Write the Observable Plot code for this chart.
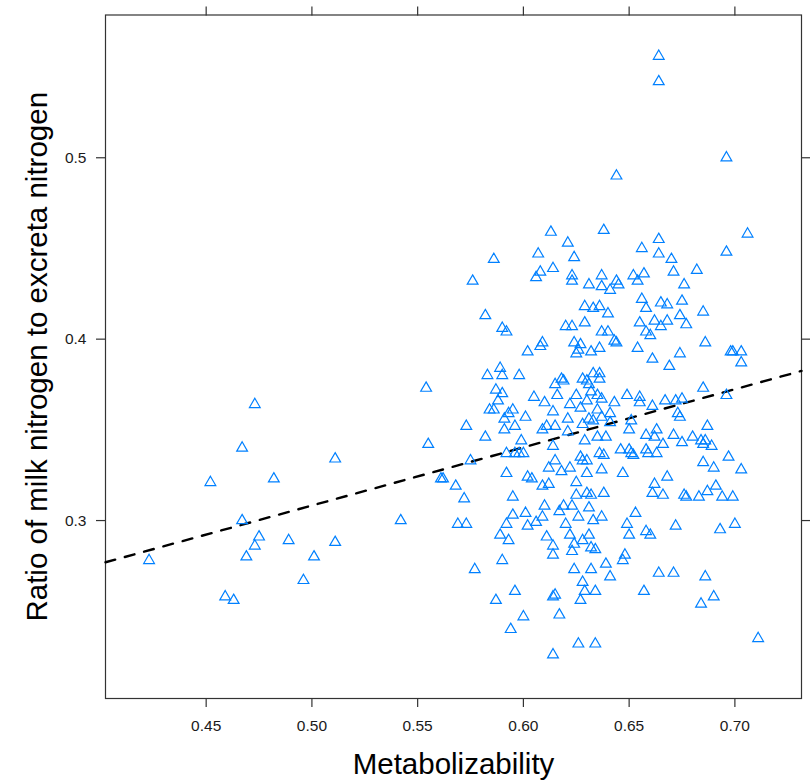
<!DOCTYPE html>
<html>
<head>
<meta charset="utf-8">
<script src="https://cdn.jsdelivr.net/npm/d3@7"></script>
<script src="https://cdn.jsdelivr.net/npm/@observablehq/plot@0.6"></script>
<style>
  html, body { margin: 0; padding: 0; background: white; }
</style>
</head>
<body>
<div id="chart"></div>
<script>
const xTitle = "Metabolizability";
const yTitle = "Ratio of milk nitrogen to excreta nitrogen";
const xTicks = [0.45, 0.50, 0.55, 0.60, 0.65, 0.70];
const yTicks = [0.3, 0.4, 0.5];
const fitX = [0.4024, 0.7315];
const fitY = [0.2770, 0.3825];

const metab = [
0.423,0.452,0.459,0.463,0.467,0.467,0.469,0.473,0.473,0.475,0.482,0.489,0.496,0.501,0.511,0.511,0.542,0.554,0.555,0.561,
0.562,0.568,0.572,0.569,0.573,0.573,0.575,0.576,0.577,0.582,0.582,0.583,0.586,0.584,0.586,0.587,0.587,0.588,0.589,0.589,
0.590,0.590,0.592,0.590,0.591,0.591,0.590,0.592,0.592,0.593,0.593,0.592,0.594,0.595,0.595,0.595,0.596,0.596,0.596,0.598,
0.598,0.599,0.600,0.600,0.601,0.601,0.602,0.602,0.602,0.604,0.605,0.606,0.606,0.607,0.608,0.608,0.609,0.609,0.609,0.610,
0.610,0.611,0.612,0.612,0.611,0.609,0.613,0.614,0.614,0.614,0.614,0.614,0.614,0.614,0.615,0.615,0.615,0.615,0.616,0.617,
0.617,0.618,0.619,0.618,0.619,0.620,0.620,0.621,0.621,0.621,0.622,0.622,0.622,0.623,0.623,0.623,0.623,0.624,0.623,0.624,
0.624,0.624,0.625,0.625,0.625,0.625,0.626,0.626,0.626,0.627,0.627,0.627,0.627,0.628,0.628,0.628,0.628,0.628,0.629,0.629,
0.629,0.629,0.630,0.630,0.630,0.630,0.630,0.631,0.631,0.631,0.631,0.631,0.632,0.632,0.632,0.632,0.632,0.633,0.633,0.633,
0.633,0.634,0.634,0.634,0.635,0.635,0.635,0.636,0.636,0.636,0.636,0.636,0.637,0.637,0.637,0.637,0.637,0.637,0.637,0.638,
0.638,0.638,0.639,0.639,0.640,0.640,0.641,0.641,0.641,0.641,0.643,0.644,0.644,0.644,0.643,0.645,0.646,0.647,0.647,0.648,
0.649,0.649,0.650,0.650,0.650,0.651,0.651,0.652,0.652,0.653,0.654,0.654,0.655,0.655,0.655,0.656,0.656,0.657,0.657,0.658,
0.658,0.658,0.658,0.658,0.659,0.660,0.660,0.661,0.661,0.662,0.661,0.662,0.662,0.663,0.663,0.664,0.664,0.664,0.664,0.664,
0.665,0.665,0.666,0.666,0.667,0.668,0.668,0.668,0.669,0.670,0.671,0.671,0.671,0.672,0.672,0.673,0.674,0.674,0.674,0.675,
0.675,0.675,0.676,0.677,0.677,0.676,0.680,0.682,0.683,0.684,0.684,0.685,0.685,0.685,0.685,0.686,0.686,0.686,0.687,0.687,
0.689,0.690,0.690,0.691,0.693,0.694,0.696,0.696,0.696,0.697,0.698,0.699,0.699,0.700,0.703,0.703,0.703,0.706,0.711
];
const ratio = [
0.278,0.321,0.258,0.256,0.340,0.300,0.280,0.364,0.286,0.291,0.323,0.289,0.267,0.280,0.334,0.288,0.300,0.373,0.342,0.323,
0.323,0.319,0.312,0.298,0.298,0.352,0.333,0.432,0.273,0.413,0.346,0.380,0.444,0.361,0.361,0.256,0.372,0.366,0.384,0.292,
0.380,0.406,0.404,0.370,0.356,0.350,0.278,0.326,0.298,0.289,0.359,0.337,0.240,0.361,0.313,0.303,0.261,0.352,0.337,0.380,
0.337,0.344,0.337,0.247,0.357,0.304,0.393,0.324,0.297,0.323,0.368,0.299,0.434,0.447,0.437,0.396,0.398,0.350,0.319,0.308,
0.365,0.352,0.329,0.320,0.291,0.302,0.459,0.226,0.439,0.360,0.281,0.258,0.341,0.286,0.375,0.259,0.333,0.352,0.369,0.305,
0.248,0.378,0.377,0.327,0.308,0.298,0.407,0.453,0.356,0.349,0.329,0.364,0.292,0.435,0.308,0.283,0.432,0.445,0.407,0.398,
0.287,0.273,0.321,0.392,0.369,0.314,0.232,0.394,0.302,0.335,0.256,0.397,0.362,0.353,0.266,0.378,0.333,0.289,0.409,0.344,
0.418,0.261,0.333,0.315,0.326,0.377,0.366,0.430,0.307,0.292,0.375,0.356,0.314,0.273,0.285,0.393,0.371,0.381,0.355,0.300,
0.417,0.232,0.284,0.261,0.346,0.369,0.361,0.337,0.418,0.381,0.378,0.395,0.429,0.435,0.357,0.367,0.404,0.302,0.328,0.315,
0.460,0.336,0.346,0.276,0.404,0.414,0.427,0.354,0.269,0.359,0.399,0.432,0.398,0.490,0.365,0.430,0.339,0.326,0.278,0.281,
0.369,0.298,0.292,0.350,0.339,0.355,0.337,0.435,0.336,0.304,0.432,0.395,0.409,0.365,0.368,0.450,0.422,0.436,0.261,0.294,
0.339,0.417,0.347,0.404,0.337,0.292,0.402,0.389,0.363,0.346,0.315,0.410,0.320,0.350,0.337,0.455,0.447,0.556,0.542,0.271,
0.420,0.407,0.314,0.342,0.366,0.324,0.419,0.410,0.385,0.444,0.271,0.347,0.437,0.297,0.366,0.359,0.357,0.392,0.413,0.421,
0.343,0.367,0.430,0.313,0.408,0.314,0.346,0.438,0.313,0.254,0.344,0.342,0.415,0.332,0.373,0.398,0.344,0.269,0.316,0.352,
0.341,0.329,0.258,0.319,0.295,0.313,0.500,0.448,0.369,0.335,0.393,0.393,0.313,0.298,0.393,0.387,0.328,0.458,0.235
];

const points = metab.map((m, i) => ({metab: m, ratio: ratio[i]}));
const fit = fitX.map((x, i) => ({x, y: fitY[i]}));

const axisStyle = {tickSize: 9, label: null, stroke: "#333", strokeWidth: 1.2};

const chart = Plot.plot({
  width: 810,
  height: 780,
  marginLeft: 105,
  marginRight: 9,
  marginTop: 14.5,
  marginBottom: 82,
  style: {fontFamily: "'Liberation Sans', Arial, sans-serif", background: "white", color: "#1a1a1a"},
  x: {domain: [0.4024, 0.7315]},
  y: {domain: [0.2019, 0.5787]},
  marks: [
    Plot.frame({stroke: "#333", strokeWidth: 1.2}),
    Plot.axisX({...axisStyle, ticks: xTicks, tickFormat: d3.format(".2f"), tickPadding: 12, fontSize: 15.5}),
    Plot.axisX({...axisStyle, anchor: "top", ticks: xTicks, tickFormat: () => ""}),
    Plot.axisY({...axisStyle, ticks: yTicks, tickFormat: d3.format(".1f"), tickPadding: 10, fontSize: 15.5}),
    Plot.axisY({...axisStyle, anchor: "right", ticks: yTicks, tickFormat: () => ""}),
    Plot.line(fit, {x: "x", y: "y", stroke: "black", strokeWidth: 2.4, strokeDasharray: "10,10"}),
    Plot.dot(points, {x: "metab", y: "ratio", symbol: "triangle", r: 4, stroke: "#0080ff", strokeWidth: 1.2, fill: "none"}),
    Plot.text([xTitle], {text: d => d, frameAnchor: "bottom", textAnchor: "middle", lineAnchor: "bottom", dy: 75, fontSize: 29.5, fill: "black"}),
    Plot.text([yTitle], {text: d => d, frameAnchor: "left", textAnchor: "middle", lineAnchor: "bottom", rotate: -90, dx: -59, fontSize: 29.5, fill: "black"})
  ]
});
document.getElementById("chart").appendChild(chart);
</script>
</body>
</html>
